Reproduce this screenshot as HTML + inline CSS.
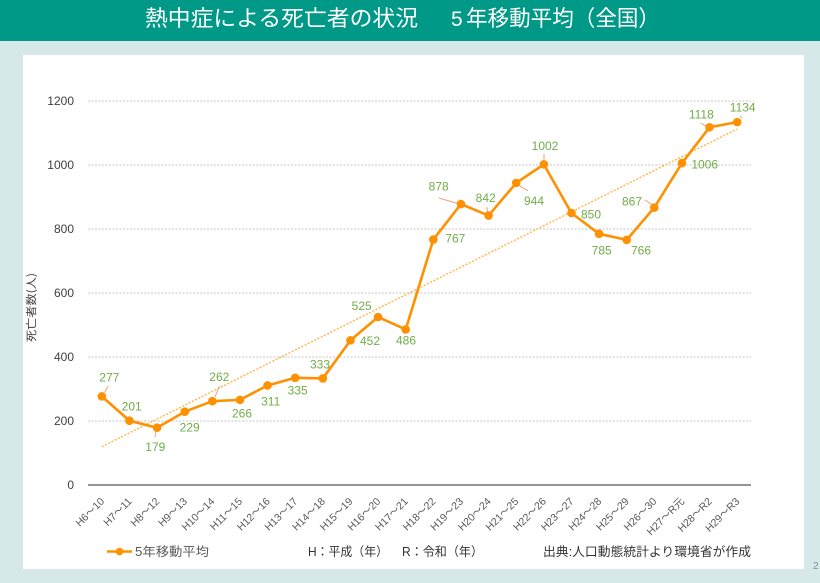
<!DOCTYPE html>
<html><head><meta charset="utf-8"><style>
html,body{margin:0;padding:0;background:#d7e8e8;}
svg{display:block;}
</style></head><body>
<svg width="820" height="583" viewBox="0 0 820 583" xmlns="http://www.w3.org/2000/svg">
<rect x="0" y="0" width="820" height="583" fill="#d7e8e8"/>
<rect x="0" y="0" width="820" height="41" fill="#009987"/>
<g font-family="'Noto Sans CJK JP', 'Liberation Sans', sans-serif" font-size="22" fill="#ffffff">
<text x="145" y="26" textLength="273" lengthAdjust="spacingAndGlyphs">熱中症による死亡者の状況</text>
<text x="451" y="26" font-family="'Liberation Sans', sans-serif" font-size="21">5</text>
<text x="466" y="26" textLength="194" lengthAdjust="spacingAndGlyphs">年移動平均（全国）</text>
</g>
<rect x="23" y="55" width="781" height="514" fill="#ffffff"/>
<text x="813" y="569" font-family="'Liberation Sans', sans-serif" font-size="10" fill="#8c8c8c">2</text>

<!-- gridlines -->
<g stroke="#c4c4c4" stroke-width="1" stroke-dasharray="2,1.5">
<line x1="88" y1="421" x2="751" y2="421"/>
<line x1="88" y1="357" x2="751" y2="357"/>
<line x1="88" y1="293" x2="751" y2="293"/>
<line x1="88" y1="229" x2="751" y2="229"/>
<line x1="88" y1="165" x2="751" y2="165"/>
<line x1="88" y1="101" x2="751" y2="101"/>
</g>
<line x1="88" y1="485" x2="751" y2="485" stroke="#707070" stroke-width="1.6"/>

<!-- y labels -->
<g font-family="'Liberation Sans', sans-serif" font-size="12" fill="#404040" text-anchor="end">
<text x="74" y="489">0</text>
<text x="74" y="425">200</text>
<text x="74" y="361">400</text>
<text x="74" y="297">600</text>
<text x="74" y="233">800</text>
<text x="74" y="169">1000</text>
<text x="74" y="105">1200</text>
</g>
<text transform="translate(35,307.5) rotate(-90)" text-anchor="middle" font-family="'Noto Sans CJK JP', sans-serif" font-size="11" fill="#404040" textLength="69" lengthAdjust="spacingAndGlyphs">死亡者数(人)</text>

<!-- x labels -->
<g font-family="'Liberation Sans', 'Noto Sans CJK JP', sans-serif" font-size="10.5" fill="#595959" text-anchor="end">
<text transform="translate(105,502) rotate(-45)">H6～10</text>
<text transform="translate(132.4,502) rotate(-45)">H7～11</text>
<text transform="translate(160.1,502) rotate(-45)">H8～12</text>
<text transform="translate(187.7,502) rotate(-45)">H9～13</text>
<text transform="translate(215.3,502) rotate(-45)">H10～14</text>
<text transform="translate(242.9,502) rotate(-45)">H11～15</text>
<text transform="translate(270.6,502) rotate(-45)">H12～16</text>
<text transform="translate(298.2,502) rotate(-45)">H13～17</text>
<text transform="translate(325.8,502) rotate(-45)">H14～18</text>
<text transform="translate(353.4,502) rotate(-45)">H15～19</text>
<text transform="translate(381.1,502) rotate(-45)">H16～20</text>
<text transform="translate(408.7,502) rotate(-45)">H17～21</text>
<text transform="translate(436.3,502) rotate(-45)">H18～22</text>
<text transform="translate(463.9,502) rotate(-45)">H19～23</text>
<text transform="translate(491.6,502) rotate(-45)">H20～24</text>
<text transform="translate(519.2,502) rotate(-45)">H21～25</text>
<text transform="translate(546.8,502) rotate(-45)">H22～26</text>
<text transform="translate(574.4,502) rotate(-45)">H23～27</text>
<text transform="translate(602.1,502) rotate(-45)">H24～28</text>
<text transform="translate(629.7,502) rotate(-45)">H25～29</text>
<text transform="translate(657.3,502) rotate(-45)">H26～30</text>
<text transform="translate(684.9,502) rotate(-45)">H27～R元</text>
<text transform="translate(712.6,502) rotate(-45)">H28～R2</text>
<text transform="translate(740.2,502) rotate(-45)">H29～R3</text>
</g>

<!-- trendline -->
<line x1="101.8" y1="446.7" x2="737.2" y2="129" stroke="#ffb13b" stroke-width="1.3" stroke-dasharray="2,1.6"/>

<!-- leader lines -->
<g stroke="#f2a07b" stroke-width="1" fill="none">
<line x1="108.3" y1="386" x2="104.5" y2="392.5"/>
<line x1="156" y1="431.5" x2="155" y2="437"/>
<line x1="219.3" y1="386" x2="215" y2="397"/>
<line x1="438.7" y1="198" x2="458" y2="203.5"/>
<line x1="486.7" y1="207" x2="487.7" y2="212.5"/>
<line x1="518" y1="185" x2="528" y2="190.7"/>
<line x1="544" y1="154" x2="544" y2="160"/>
<line x1="645" y1="200" x2="651.7" y2="204.3"/>
<line x1="700.7" y1="123.3" x2="706.7" y2="126"/>
<line x1="740" y1="116" x2="741.7" y2="118"/>
</g>

<!-- series -->
<polyline fill="none" stroke="#ff9000" stroke-width="2.6" stroke-linejoin="round"
points="101.81,396.36 129.44,420.68 157.06,427.72 184.69,411.72 212.31,401.16 239.94,399.88 267.56,385.48 295.19,377.8 322.81,378.44 350.44,340.36 378.06,317 405.69,329.48 433.31,239.56 460.94,204.04 488.56,215.56 516.19,182.92 543.81,164.36 571.44,213 599.06,233.8 626.69,239.88 654.31,207.56 681.94,163.08 709.56,127.24 737.19,122.12"/>
<g fill="#ff9000">
<circle cx="101.81" cy="396.36" r="4.3"/>
<circle cx="129.44" cy="420.68" r="4.3"/>
<circle cx="157.06" cy="427.72" r="4.3"/>
<circle cx="184.69" cy="411.72" r="4.3"/>
<circle cx="212.31" cy="401.16" r="4.3"/>
<circle cx="239.94" cy="399.88" r="4.3"/>
<circle cx="267.56" cy="385.48" r="4.3"/>
<circle cx="295.19" cy="377.8" r="4.3"/>
<circle cx="322.81" cy="378.44" r="4.3"/>
<circle cx="350.44" cy="340.36" r="4.3"/>
<circle cx="378.06" cy="317" r="4.3"/>
<circle cx="405.69" cy="329.48" r="4.3"/>
<circle cx="433.31" cy="239.56" r="4.3"/>
<circle cx="460.94" cy="204.04" r="4.3"/>
<circle cx="488.56" cy="215.56" r="4.3"/>
<circle cx="516.19" cy="182.92" r="4.3"/>
<circle cx="543.81" cy="164.36" r="4.3"/>
<circle cx="571.44" cy="213" r="4.3"/>
<circle cx="599.06" cy="233.8" r="4.3"/>
<circle cx="626.69" cy="239.88" r="4.3"/>
<circle cx="654.31" cy="207.56" r="4.3"/>
<circle cx="681.94" cy="163.08" r="4.3"/>
<circle cx="709.56" cy="127.24" r="4.3"/>
<circle cx="737.19" cy="122.12" r="4.3"/>
</g>

<!-- data labels -->
<g font-family="'Liberation Sans', sans-serif" font-size="12" fill="#70ad47" text-anchor="middle">
<text x="109.3" y="381.7">277</text>
<text x="131.7" y="410.4">201</text>
<text x="155.3" y="451.1">179</text>
<text x="189.7" y="431.7">229</text>
<text x="219.3" y="381.1">262</text>
<text x="242" y="417.7">266</text>
<text x="270.7" y="405.7">311</text>
<text x="297.7" y="394.7">335</text>
<text x="320" y="368.4">333</text>
<text x="370" y="345.1">452</text>
<text x="361.7" y="310.1">525</text>
<text x="406" y="344.4">486</text>
<text x="455.3" y="242.7">767</text>
<text x="438.7" y="190.4">878</text>
<text x="485.7" y="202.1">842</text>
<text x="534" y="205.1">944</text>
<text x="545" y="150.1">1002</text>
<text x="591" y="218.7">850</text>
<text x="601.7" y="254.4">785</text>
<text x="641" y="254.4">766</text>
<text x="632" y="205.4">867</text>
<text x="704.7" y="168.4">1006</text>
<text x="701.3" y="118.7">1118</text>
<text x="742.7" y="111.7">1134</text>
</g>

<!-- legend -->
<line x1="107" y1="551.5" x2="132" y2="551.5" stroke="#ff9000" stroke-width="2.4"/>
<circle cx="119.5" cy="551.5" r="3.8" fill="#ff9000"/>
<g font-family="'Liberation Sans', 'Noto Sans CJK JP', sans-serif" font-size="12.5">
<text x="135" y="556" fill="#595959" textLength="74" lengthAdjust="spacingAndGlyphs">5年移動平均</text>
<text x="308" y="556" fill="#333333" textLength="80" lengthAdjust="spacingAndGlyphs">H：平成（年）</text>
<text x="402" y="556" fill="#333333" textLength="81" lengthAdjust="spacingAndGlyphs">R：令和（年）</text>
<text x="543" y="556" fill="#333333" textLength="208" lengthAdjust="spacingAndGlyphs">出典:人口動態統計より環境省が作成</text>
</g>
</svg>
</body></html>
